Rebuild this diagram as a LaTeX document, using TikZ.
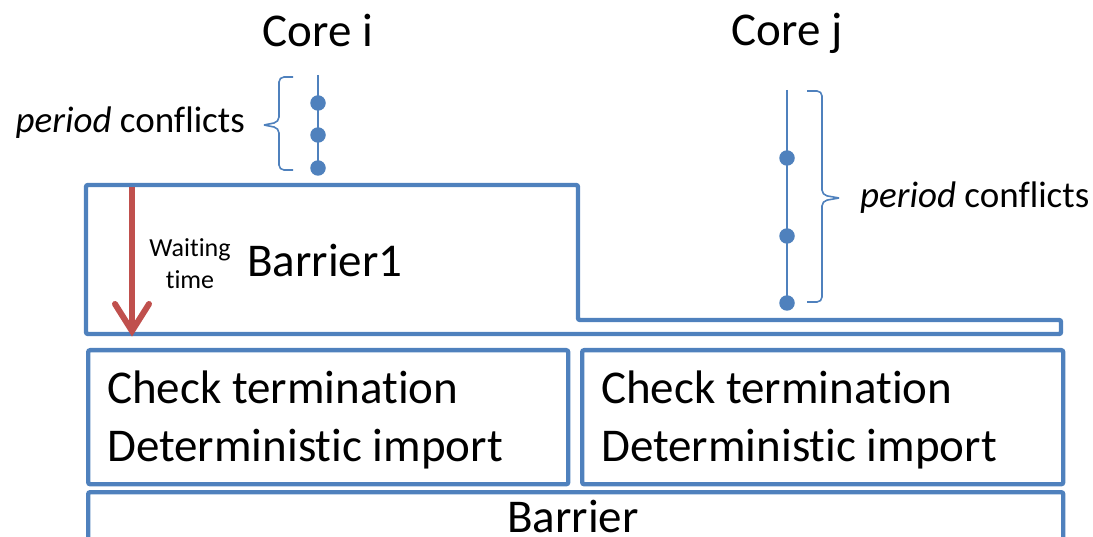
\documentclass[tikz,border=0pt]{standalone}
\usepackage{fontspec}
\setmainfont{Carlito}[Ligatures=NoCommon]
\definecolor{boxblue}{HTML}{4F81BD}
\definecolor{arrowred}{HTML}{C0504D}
\begin{document}
\begin{tikzpicture}[x=1pt,y=-1pt,
  outline/.style={draw=boxblue,line width=4.4pt,rounded corners=2pt},
  boxnode/.style={outline,inner sep=0pt,anchor=north west},
  big/.style={font=\fontsize{47}{56}\selectfont,inner sep=0pt},
  mid/.style={font=\fontsize{37}{44}\selectfont,inner sep=0pt},
  small/.style={font=\fontsize{26}{32}\selectfont,inner sep=0pt},
  tl/.style={draw=boxblue,line width=2.5pt},
  dot/.style={circle,fill=boxblue,inner sep=0pt,minimum size=15.5pt},
  brace/.style={draw=boxblue,line width=1.6pt,rounded corners=5pt}]
\useasboundingbox (0,0) rectangle (1093,537);

% titles
\node[big,anchor=base] (corei) at (318,47) {Core i};
\node[big,anchor=base] (corej) at (787,46) {Core j};

% left timeline
\coordinate (ti0) at (318,75);
\node[dot] (di1) at (318,103) {};
\node[dot] (di2) at (318,135) {};
\node[dot] (di3) at (318,168) {};
\draw[tl] (ti0) -- (di3.center);
\draw[brace] (293,77) -- (279,77) -- (279,122) -- (264,125);
\draw[brace] (264,125) -- (279,128) -- (279,170) -- (293,170);
\node[mid,anchor=base east] (pcl) at (245,133) {\textit{period} conflicts};

% right timeline
\coordinate (tj0) at (787,90);
\node[dot] (dj1) at (787,158) {};
\node[dot] (dj2) at (787,236) {};
\node[dot] (dj3) at (787,303) {};
\draw[tl] (tj0) -- (dj3.center);
\draw[brace] (807,91) -- (822,91) -- (822,195) -- (839,198);
\draw[brace] (839,198) -- (822,201) -- (822,302) -- (807,302);
\node[mid,anchor=base west] (pcr) at (860,208) {\textit{period} conflicts};

% Barrier1 outline
\draw[outline] (86,185) -- (578,185) -- (578,320) -- (1061,320) -- (1061,334) -- (86,334) -- cycle;
\node[big,anchor=base west] (b1) at (247,277) {Barrier1};
\node[small,anchor=base] (wait) at (190,257) {Waiting};
\node[small,anchor=base] (time) at (190,289) {time};

% waiting arrow
\coordinate (as) at (132,187);
\coordinate (ae) at (132,331);
\draw[arrowred,line width=6pt] (as) -- (ae);
\draw[arrowred,line width=6pt,line cap=round,line join=miter] ([shift={(-17,-27)}]ae) -- (ae) -- ([shift={(17,-27)}]ae);

% boxes
\node[boxnode,minimum width=480pt,minimum height=134pt] (lbox) at (86,348) {};
\node[boxnode,minimum width=481pt,minimum height=134pt] (rbox) at (580,348) {};
\node[boxnode,minimum width=975pt,minimum height=90pt] (bbox) at (86,490) {};

\node[big,anchor=base west] (lt1) at (107,403) {Check termination};
\node[big,anchor=base west] (lt2) at (107,461) {Deterministic import};
\node[big,anchor=base west] (rt1) at (601,403) {Check termination};
\node[big,anchor=base west] (rt2) at (601,461) {Deterministic import};
\node[big,anchor=base] (bt) at (573,532) {Barrier};
\end{tikzpicture}
\end{document}
